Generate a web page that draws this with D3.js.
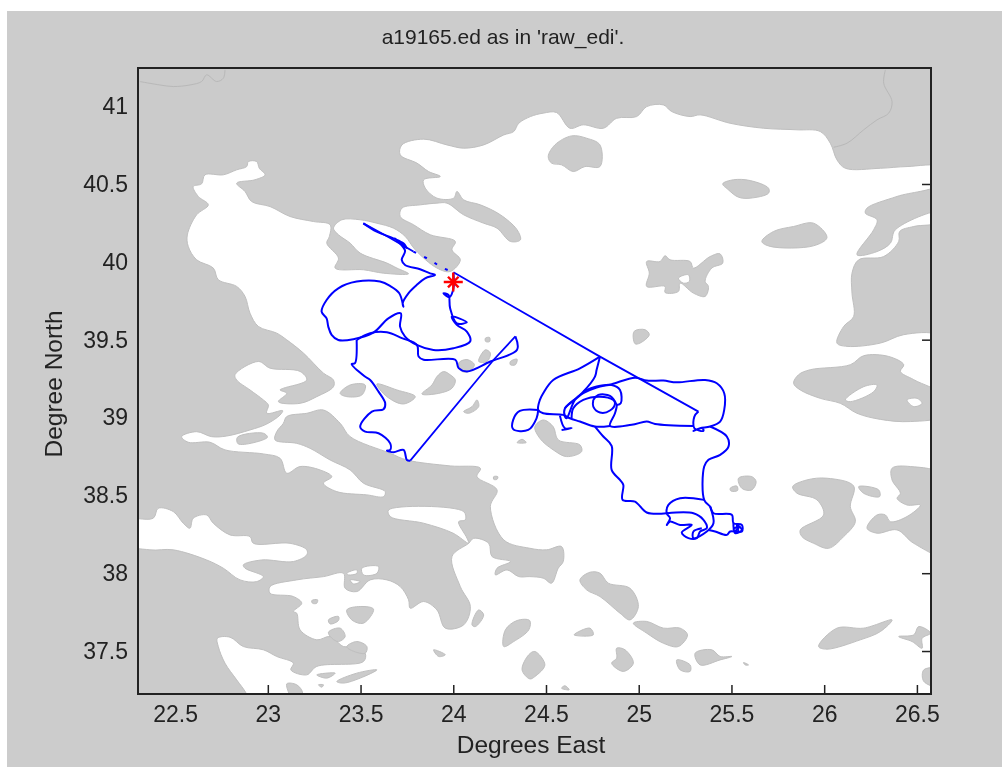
<!DOCTYPE html>
<html>
<head>
<meta charset="utf-8">
<script src="https://d3js.org/d3.v7.min.js"></script>
<style>
body { margin: 0; background: #fff; }
svg { filter: blur(0.4px); }
text { font-family: "Liberation Sans", Arial, sans-serif; fill: #222; }
</style>
</head>
<body>
<script>
var xTicks = [22.5, 23, 23.5, 24, 24.5, 25, 25.5, 26, 26.5];
var yTicks = [37.5, 38, 38.5, 39, 39.5, 40, 40.5, 41];
var xLimits = [22.3, 26.576];
var yLimits = [37.224, 41.245];

// coast of the open sea, lon/lat
var seaMain = [[23.300,39.285],[23.192,39.414],[23.102,39.499],[23.048,39.542],[22.949,39.585],[22.904,39.670],[22.877,39.778],[22.832,39.842],[22.733,39.885],[22.706,39.960],[22.616,40.013],[22.571,40.099],[22.566,40.173],[22.616,40.302],[22.679,40.366],[22.625,40.420],[22.598,40.484],[22.643,40.501],[22.661,40.559],[22.760,40.559],[22.832,40.591],[22.886,40.612],[22.895,40.644],[22.940,40.644],[22.954,40.601],[22.985,40.559],[22.931,40.527],[22.832,40.505],[22.877,40.452],[22.913,40.387],[23.012,40.355],[23.120,40.291],[23.246,40.259],[23.336,40.238],[23.332,40.163],[23.318,40.120],[23.381,40.024],[23.363,39.960],[23.516,39.949],[23.624,39.927],[23.759,39.923],[23.696,39.960],[23.642,39.992],[23.498,40.056],[23.444,40.120],[23.381,40.174],[23.354,40.216],[23.399,40.270],[23.498,40.270],[23.588,40.248],[23.678,40.216],[23.741,40.163],[23.795,40.077],[23.912,39.960],[23.984,39.938],[24.038,40.013],[23.993,40.077],[24.011,40.131],[23.876,40.174],[23.786,40.238],[23.714,40.291],[23.723,40.345],[23.822,40.366],[23.912,40.377],[23.966,40.377],[24.056,40.302],[24.164,40.248],[24.236,40.216],[24.308,40.131],[24.362,40.141],[24.344,40.206],[24.254,40.302],[24.146,40.366],[24.056,40.398],[24.020,40.452],[24.002,40.409],[23.912,40.409],[23.849,40.473],[23.840,40.527],[23.930,40.548],[23.867,40.580],[23.804,40.634],[23.714,40.687],[23.723,40.751],[23.840,40.788],[23.966,40.751],[24.056,40.730],[24.164,40.751],[24.272,40.815],[24.326,40.837],[24.353,40.890],[24.416,40.933],
[24.485,40.955],[24.557,40.959],[24.629,40.858],[24.701,40.880],[24.809,40.858],[24.881,40.922],[24.989,40.933],[25.043,40.997],[25.133,41.008],[25.178,40.965],[25.277,40.933],[25.331,40.944],[25.493,40.890],[25.673,40.858],[25.853,40.848],[25.979,40.837],[26.033,40.762],[26.069,40.655],[26.114,40.601],[26.303,40.601],[26.447,40.612],[26.62,40.608],[26.62,40.50],[26.393,40.420],[26.231,40.345],[26.222,40.313],[26.285,40.270],[26.267,40.206],[26.177,40.045],[26.285,40.066],[26.357,40.120],[26.384,40.206],[26.62,40.32],[26.62,40.255],[26.483,40.227],[26.407,40.195],[26.402,40.131],[26.321,40.034],[26.186,40.013],[26.150,39.927],[26.150,39.799],[26.159,39.649],[26.105,39.585],[26.069,39.478],[26.123,39.457],[26.303,39.478],[26.429,39.532],[26.62,39.532],[26.75,39.4],[26.75,37.05],[22.95,37.05],
[22.886,37.224],[22.832,37.315],[22.769,37.422],[22.733,37.529],[22.728,37.582],[22.796,37.589],[22.868,37.529],[22.976,37.508],[23.048,37.465],[23.138,37.422],[23.124,37.379],[23.210,37.347],[23.264,37.401],[23.516,37.433],[23.525,37.486],[23.462,37.529],[23.408,37.529],[23.336,37.593],[23.264,37.572],[23.174,37.636],[23.156,37.743],[23.138,37.754],[23.183,37.807],[23.138,37.850],[23.012,37.871],[23.012,37.914],[23.156,37.957],[23.300,37.978],[23.408,37.999],[23.417,37.903],[23.480,37.882],[23.552,37.957],[23.642,37.957],[23.714,37.914],[23.759,37.829],[23.768,37.775],[23.840,37.818],[23.912,37.764],[23.957,37.647],[24.056,37.668],[24.092,37.786],[24.038,37.914],[23.993,38.107],[24.083,38.192],[24.110,38.224],[24.191,38.192],[24.209,38.107],[24.308,38.075],[24.236,38.032],[24.227,37.989],[24.290,38.021],[24.353,37.978],[24.413,37.978],[24.485,37.968],[24.530,37.936],[24.566,38.032],[24.593,38.075],[24.584,38.171],[24.503,38.150],[24.413,38.160],[24.272,38.214],[24.200,38.428],[24.236,38.535],[24.128,38.620],[24.146,38.674],[23.984,38.689],[23.750,38.727],[23.660,38.770],[23.444,38.877],[23.390,38.963],[23.300,39.048],[23.210,39.027],[23.102,39.006],[23.084,38.963],[23.048,38.909],[23.039,38.856],[23.156,38.834],[23.228,38.802],[23.336,38.727],[23.444,38.663],[23.516,38.578],[23.633,38.524],[23.624,38.492],[23.534,38.503],[23.372,38.524],[23.300,38.578],[23.345,38.620],[23.282,38.663],[23.174,38.685],[23.102,38.642],[23.066,38.738],[22.976,38.766],[22.769,38.792],[22.688,38.841],[22.571,38.841],[22.535,38.877],[22.616,38.909],[22.697,38.877],[22.778,38.881],[22.904,38.920],[22.994,38.958],[23.066,39.016],[23.080,39.044],[22.994,39.027],[23.003,39.080],[22.976,39.113],[22.904,39.177],[22.832,39.241],[22.823,39.275],[22.949,39.360],[23.012,39.317],[23.174,39.296],[23.210,39.241],[23.084,39.188],[23.066,39.177],[23.102,39.155],[23.057,39.102],[23.174,39.091],[23.264,39.134],[23.354,39.198],[23.354,39.241]];
var seaCorinth = [[22.22,38.342],[22.382,38.353],[22.409,38.417],[22.490,38.396],[22.544,38.321],[22.580,38.289],[22.598,38.353],[22.670,38.374],[22.706,38.321],[22.796,38.246],[22.904,38.235],[22.922,38.192],[23.120,38.192],[23.210,38.150],[23.210,38.118],[23.138,38.075],[22.967,38.085],[22.868,38.053],[22.877,38.032],[22.976,37.978],[22.940,37.946],[22.850,37.957],[22.760,38.032],[22.670,38.085],[22.490,38.150],[22.364,38.150],[22.22,38.192]];
var seaEuboea = [[23.651,38.406],[24.056,38.396],[24.065,38.342],[24.029,38.331],[24.074,38.225],[24.083,38.192],[23.999,38.257],[23.840,38.321],[23.660,38.364]];
var bayA = [[23.507,38.032],[23.597,38.043],[23.588,37.999],[23.516,37.989]];
var bayB = [[23.426,37.999],[23.480,38.021],[23.480,37.999],[23.435,37.989]];
var bayC = [[23.444,37.957],[23.498,37.946],[23.462,37.931]];

var thasos = [[24.512,40.676],[24.548,40.751],[24.638,40.809],[24.719,40.794],[24.791,40.751],[24.791,40.612],[24.710,40.612],[24.647,40.580],[24.584,40.623],[24.530,40.634]];
var samothrace = [[25.453,40.501],[25.511,40.527],[25.601,40.522],[25.700,40.473],[25.700,40.441],[25.601,40.409],[25.538,40.415],[25.484,40.462]];
var imbros = [[25.664,40.131],[25.727,40.195],[25.835,40.227],[25.943,40.248],[26.015,40.156],[25.943,40.103],[25.709,40.099]];
var lemnos = [[25.043,40.002],[25.115,40.002],[25.142,40.039],[25.169,40.013],[25.277,40.002],[25.295,39.960],[25.385,40.034],[25.439,40.051],[25.453,39.992],[25.394,39.960],[25.358,39.874],[25.376,39.842],[25.358,39.778],[25.295,39.799],[25.223,39.863],[25.214,39.810],[25.142,39.803],[25.142,39.842],[25.043,39.842],[25.057,39.927]];
var lemnosBay = [[25.214,39.895],[25.268,39.917],[25.273,39.874],[25.241,39.863]];
var efstratios = [[24.975,39.553],[25.034,39.564],[25.057,39.532],[25.007,39.478],[24.980,39.474]];
var lesvos = [[25.862,39.275],[25.925,39.307],[26.141,39.339],[26.213,39.397],[26.348,39.392],[26.429,39.339],[26.411,39.296],[26.483,39.243],[26.65,39.134],[26.65,39.016],[26.465,38.974],[26.303,38.988],[26.177,39.027],[26.087,39.091],[25.979,39.123],[25.871,39.177],[25.835,39.220]];
var lesvosBayA = [[26.114,39.113],[26.213,39.198],[26.285,39.209],[26.267,39.166],[26.141,39.102]];
var lesvosBayB = [[26.447,39.113],[26.501,39.123],[26.528,39.091],[26.483,39.070]];
var skyros = [[24.440,38.941],[24.485,38.984],[24.539,38.941],[24.566,38.856],[24.683,38.824],[24.692,38.781],[24.611,38.749],[24.539,38.792],[24.467,38.866]];
var psara = [[25.538,38.610],[25.610,38.620],[25.633,38.588],[25.610,38.535],[25.556,38.545]];
var antipsara = [[25.493,38.545],[25.529,38.560],[25.533,38.531],[25.497,38.528]];
var chios = [[25.830,38.556],[25.907,38.599],[26.015,38.610],[26.159,38.560],[26.141,38.428],[26.168,38.331],[26.105,38.235],[26.024,38.160],[25.943,38.192],[25.880,38.235],[25.871,38.278],[25.997,38.374],[25.961,38.471],[25.853,38.514]];
var oinousses = [[26.186,38.556],[26.294,38.535],[26.299,38.492],[26.213,38.513]];
var cesme = [[26.366,38.674],[26.465,38.685],[26.65,38.620],[26.65,38.117],[26.483,38.192],[26.393,38.278],[26.285,38.257],[26.231,38.289],[26.285,38.374],[26.330,38.374],[26.357,38.331],[26.447,38.364],[26.519,38.438],[26.447,38.438],[26.393,38.481],[26.411,38.513],[26.366,38.599]];
var tinos = [[24.683,37.957],[24.737,38.006],[24.791,38.000],[24.836,37.936],[24.953,37.903],[24.998,37.786],[24.953,37.700],[24.899,37.743],[24.791,37.850],[24.719,37.893]];
var mykonos = [[24.971,37.679],[25.043,37.690],[25.133,37.647],[25.223,37.647],[25.263,37.604],[25.214,37.529],[25.133,37.550],[25.043,37.615]];
var syros = [[24.651,37.604],[24.737,37.647],[24.755,37.604]];
var paros = [[24.881,37.518],[24.926,37.508],[24.971,37.422],[24.917,37.369],[24.854,37.422],[24.881,37.454]];
var naxos = [[25.304,37.486],[25.394,37.508],[25.439,37.465],[25.502,37.465],[25.439,37.443],[25.331,37.411]];
var donousa = [[25.205,37.443],[25.277,37.411],[25.277,37.369],[25.223,37.379]];
var islet = [[25.565,37.426],[25.592,37.411],[25.574,37.411]];
var samos = [[25.970,37.529],[26.069,37.647],[26.213,37.647],[26.366,37.700],[26.303,37.625],[26.195,37.572],[26.015,37.512]];
var fournoi = [[26.402,37.593],[26.483,37.604],[26.510,37.657],[26.573,37.615],[26.528,37.582],[26.528,37.518],[26.474,37.561]];
var edgeIsle = [[26.537,37.379],[26.62,37.384],[26.62,37.272],[26.537,37.305]];
var southIsle = [[24.584,37.261],[24.602,37.277],[24.625,37.251]];
var kea = [[24.272,37.529],[24.281,37.636],[24.344,37.696],[24.412,37.696],[24.407,37.636],[24.326,37.561]];
var kythnos = [[24.371,37.379],[24.407,37.476],[24.440,37.497],[24.494,37.411],[24.440,37.336],[24.413,37.321]];
var smallA = [[24.101,37.668],[24.137,37.764],[24.164,37.732],[24.119,37.657]];
var smallB = [[23.894,37.508],[23.957,37.476],[23.921,37.465]];
var smallC = [[24.344,38.839],[24.371,38.860],[24.393,38.839]];
var smallD = [[24.218,38.620],[24.240,38.620],[24.236,38.603],[24.218,38.603]];
var smallE = [[24.056,39.038],[24.101,39.070],[24.128,39.113],[24.137,39.070],[24.083,39.027]];
var sporadesA = [[23.390,39.155],[23.444,39.209],[23.525,39.209],[23.507,39.145],[23.426,39.134]];
var sporadesB = [[23.588,39.215],[23.696,39.177],[23.795,39.134],[23.732,39.087],[23.642,39.134]];
var sporadesC = [[23.831,39.151],[23.885,39.209],[23.912,39.263],[23.948,39.295],[23.984,39.274],[24.011,39.241],[23.993,39.188],[23.921,39.155]];
var sporadesD = [[24.029,39.350],[24.074,39.372],[24.114,39.339],[24.083,39.296],[24.047,39.296]];
var sporadesE = [[24.137,39.360],[24.173,39.435],[24.200,39.414],[24.182,39.360]];
var sporadesF = [[24.308,39.360],[24.344,39.375],[24.335,39.339],[24.308,39.339]];
var sporadesG = [[24.173,39.509],[24.196,39.514],[24.196,39.488],[24.175,39.488]];
var sliver = [[22.836,38.873],[22.976,38.899],[22.998,38.873],[22.841,38.830]];
var aegina = [[23.426,37.764],[23.498,37.786],[23.570,37.769],[23.516,37.679],[23.453,37.700]];
var poros = [[23.327,37.621],[23.390,37.647],[23.417,37.593],[23.381,37.561],[23.345,37.583]];
var salamis = [[23.327,37.700],[23.381,37.722],[23.381,37.696],[23.336,37.674]];
var dot = [[23.237,37.824],[23.268,37.829],[23.264,37.807],[23.241,37.807]];
var hydraA = [[23.426,37.529],[23.480,37.561],[23.534,37.529],[23.525,37.486],[23.444,37.508]];
var hydraB = [[23.264,37.347],[23.363,37.358],[23.318,37.326]];
var hydraC = [[23.372,37.304],[23.480,37.358],[23.588,37.379],[23.498,37.326],[23.408,37.294]];
var spetses = [[23.102,37.289],[23.156,37.283],[23.188,37.229],[23.156,37.15]];
var tiny = [[23.273,37.283],[23.300,37.283],[23.291,37.268]];

var borderWest = [[22.310,41.158],[22.418,41.136],[22.490,41.126],[22.580,41.136],[22.643,41.158],[22.670,41.201],[22.724,41.158],[22.760,41.179],[22.769,41.233]];
var borderEast = [[26.330,41.233],[26.321,41.147],[26.366,41.029],[26.348,40.955],[26.285,40.912],[26.213,40.848],[26.123,40.762],[26.051,40.736]];

// float track, several pieces
var trackDotted = [[23.785,40.066],[23.857,40.023],[23.947,39.958],[24.001,39.933]];
var trackStart = [[23.515,40.247],[23.650,40.160],[23.785,40.066]];
var trackLong = [[24.001,39.933],[24.791,39.391],[25.322,39.038]];
var trackNorth = [[25.322,39.038],[25.300,39.006],[25.300,38.931],[25.349,38.914],[25.344,38.931],[25.295,38.914],[25.331,38.931],[25.385,38.942],[25.439,38.974],[25.461,39.049],[25.461,39.156],[25.421,39.220],[25.358,39.241],[25.205,39.226],[25.133,39.237],[25.043,39.237],[24.980,39.256],[24.854,39.214],[24.773,39.192],[24.701,39.156],[24.665,39.124],[24.602,39.059],[24.602,39.006],[24.611,38.995],[24.656,39.113],[24.701,39.156]];
var trackWest = [[23.515,40.247],[23.587,40.194],[23.677,40.151],[23.731,40.119],[23.749,40.087],[23.686,40.151],[23.740,40.072],[23.722,40.012],[23.740,39.980],[23.821,39.952],[23.875,39.926],[23.902,39.916],[23.848,39.894],[23.803,39.852],[23.758,39.798],[23.727,39.734],[23.731,39.712],[23.709,39.798],[23.659,39.845],[23.605,39.873],[23.479,39.873],[23.380,39.830],[23.317,39.755],[23.290,39.680],[23.317,39.637],[23.326,39.584],[23.344,39.531],[23.380,39.498],[23.461,39.503],[23.569,39.545],[23.650,39.637],[23.717,39.669],[23.713,39.584],[23.740,39.520],[23.803,39.466],[23.893,39.434],[24.001,39.445],[24.091,39.488],[24.073,39.552],[24.019,39.595],[23.992,39.648],[24.073,39.612],[24.019,39.605],[23.983,39.702],[23.974,39.787],[23.947,39.798],[23.979,39.772],[24.001,39.830],[24.001,39.926]];
var trackSouthWest = [[23.479,39.498],[23.470,39.349],[23.452,39.344],[23.524,39.263],[23.552,39.241],[23.597,39.166],[23.633,39.091],[23.624,39.053],[23.561,39.038],[23.498,38.941],[23.525,38.909],[23.597,38.899],[23.660,38.834],[23.660,38.792],[23.642,38.787],[23.678,38.777],[23.732,38.792],[23.750,38.727],[23.768,38.723]];
var trackDiagonal = [[23.768,38.723],[24.128,39.241],[24.218,39.371],[24.335,39.521]];
var trackBack = [[24.335,39.521],[24.344,39.435],[24.200,39.360],[24.074,39.296],[24.029,39.317],[24.011,39.371],[23.840,39.371],[23.813,39.392],[23.804,39.467],[23.723,39.510],[23.642,39.548],[23.552,39.542],[23.480,39.499]];
var trackSpiral = [[24.638,38.995],[24.647,39.059],[24.701,39.113],[24.791,39.134],[24.863,39.113],[24.881,39.081],[24.872,39.027],[24.845,38.946],[24.962,38.953],[25.043,38.974],[25.088,38.959],[25.295,38.946]];
var trackOuter = [[24.701,39.166],[24.773,39.199],[24.854,39.209],[24.899,39.177],[24.903,39.092],[24.881,39.081]];
var trackCircle = [[24.755,39.113],[24.782,39.145],[24.845,39.139],[24.872,39.092],[24.845,39.045],[24.791,39.032],[24.755,39.070],[24.755,39.113]];
var trackCross = [[24.791,39.391],[24.773,39.306],[24.764,39.263],[24.701,39.166],[24.620,39.081],[24.602,39.059]];
var trackArc = [[24.791,39.391],[24.683,39.316],[24.539,39.241],[24.485,39.156],[24.467,39.113],[24.458,39.049],[24.485,39.027],[24.593,39.017],[24.629,38.995],[24.683,38.974],[24.764,38.942],[24.845,38.946]];
var trackLoop = [[24.458,39.049],[24.359,39.042],[24.323,38.985],[24.323,38.925],[24.404,38.920],[24.449,38.995],[24.458,39.049]];
var trackSpur = [[24.575,39.012],[24.602,38.931],[24.638,38.931],[24.584,38.920]];
var trackSouth = [[24.764,38.942],[24.809,38.878],[24.854,38.818],[24.854,38.664],[24.899,38.599],[24.917,38.567],[24.913,38.471],[24.980,38.460],[25.043,38.390],[25.151,38.385]];
var trackEast = [[25.385,38.942],[25.475,38.878],[25.484,38.813],[25.439,38.760],[25.376,38.728],[25.353,38.685],[25.353,38.471],[25.385,38.428],[25.403,38.385],[25.502,38.375],[25.511,38.321],[25.556,38.310],[25.556,38.268],[25.493,38.268],[25.475,38.246],[25.412,38.268],[25.376,38.278]];
var trackCluster = [[25.353,38.471],[25.223,38.482],[25.160,38.439],[25.151,38.385],[25.169,38.353],[25.151,38.310],[25.169,38.332],[25.223,38.310],[25.286,38.310],[25.232,38.261],[25.268,38.225],[25.313,38.225],[25.331,38.268],[25.367,38.289],[25.349,38.343],[25.295,38.385],[25.151,38.385]];
var trackInner = [[25.385,38.428],[25.403,38.321],[25.367,38.268],[25.295,38.225],[25.295,38.268],[25.340,38.289]];
var trackTip = [[25.511,38.321],[25.511,38.300],[25.520,38.257],[25.556,38.278],[25.529,38.310],[25.538,38.261],[25.511,38.283],[25.545,38.300],[25.520,38.270]];

var startPoint = [24.0, 39.87];

var seas = [seaMain, seaCorinth, seaEuboea, bayA, bayB, bayC];
var islands = [thasos, samothrace, imbros, lemnos, lemnosBay, efstratios, lesvos, lesvosBayA, lesvosBayB, skyros, psara, antipsara, chios, oinousses, cesme, tinos, mykonos, syros, paros, naxos, donousa, islet, samos, fournoi, edgeIsle, southIsle, kea, kythnos, smallA, smallB, smallC, smallD, smallE, sporadesA, sporadesB, sporadesC, sporadesD, sporadesE, sporadesF, sporadesG, sliver, aegina, poros, salamis, dot, hydraA, hydraB, hydraC, spetses, tiny];
var tracks = [trackNorth, trackWest, trackSouthWest, trackBack, trackSpiral, trackOuter, trackCircle, trackCross, trackArc, trackLoop, trackSpur, trackSouth, trackEast, trackCluster, trackInner, trackTip];
var straightTracks = [trackStart, trackLong, trackDiagonal];

var width = 1002, height = 767;
var left = 138, right = 931, axTop = 68, bottom = 694;

var svg = d3.select("body").append("svg")
	.attr("width", width)
	.attr("height", height)
	.style("display", "block");

svg.append("clipPath").attr("id", "box").append("rect")
	.attr("x", left).attr("y", axTop).attr("width", right - left).attr("height", bottom - axTop);

svg.append("rect").attr("x", 7).attr("y", 11).attr("width", width - 7).attr("height", height - 11).attr("fill", "#cccccc");
svg.append("rect").attr("x", left).attr("y", axTop).attr("width", right - left).attr("height", bottom - axTop).attr("fill", "#fff");

var x = d3.scaleLinear().domain(xLimits).range([left, right]);
var y = d3.scaleLinear().domain(yLimits).range([bottom, axTop]);

var line = d3.line().x(function(d) { return x(d[0]); }).y(function(d) { return y(d[1]); });
var smooth = d3.line().x(function(d) { return x(d[0]); }).y(function(d) { return y(d[1]); })
	.curve(d3.curveCatmullRom.alpha(0.5));
var ring = d3.line().x(function(d) { return x(d[0]); }).y(function(d) { return y(d[1]); })
	.curve(d3.curveCatmullRomClosed.alpha(0.5));

// ticks go under the land, like in the original
function addAxis(axis, tx, ty, labels) {
	var g = svg.append("g").attr("transform", "translate(" + tx + "," + ty + ")").call(axis);
	g.select(".domain").remove();
	g.selectAll("line").attr("stroke", "#222").attr("stroke-width", 1.5);
	if (labels) {
		g.selectAll("text").style("font-family", '"Liberation Sans", Arial, sans-serif').style("font-size", "23px").attr("fill", "#222");
	} else {
		g.selectAll("text").remove();
	}
	return g;
}
var fmt = function(d) { return d; };
addAxis(d3.axisBottom(x).tickValues(xTicks).tickFormat(fmt).tickSize(-9).tickPadding(12).tickSizeOuter(0), 0, bottom, true);
addAxis(d3.axisLeft(y).tickValues(yTicks).tickFormat(fmt).tickSize(-9).tickPadding(10).tickSizeOuter(0), left, 0, true);
addAxis(d3.axisTop(x).tickValues(xTicks).tickSize(-9).tickSizeOuter(0), 0, axTop, false);
addAxis(d3.axisRight(y).tickValues(yTicks).tickSize(-9).tickSizeOuter(0), right, 0, false);

var land = svg.append("g").attr("clip-path", "url(#box)");
var rectRing = "M" + (left - 80) + "," + (axTop - 80) + "H" + (right + 80) + "V" + (bottom + 80) + "H" + (left - 80) + "Z";
land.append("path")
	.attr("d", rectRing + seas.map(function(d) { return ring(d); }).join(""))
	.attr("fill", "#cbcbcb")
	.attr("fill-rule", "evenodd")
	.attr("stroke", "#bfbfbf");
land.append("path")
	.attr("d", islands.map(function(d) { return ring(d); }).join(""))
	.attr("fill", "#cbcbcb")
	.attr("fill-rule", "evenodd")
	.attr("stroke", "#bfbfbf");

land.selectAll(".border").data([borderWest, borderEast]).enter().append("path")
	.attr("class", "border")
	.attr("d", function(d) { return smooth(d); })
	.attr("fill", "none")
	.attr("stroke", "#b8b8b8")
	.attr("stroke-width", 1);

svg.selectAll(".track").data(tracks).enter().append("path")
	.attr("class", "track")
	.attr("d", function(d) { return smooth(d); })
	.attr("fill", "none")
	.attr("stroke", "#0000ff")
	.attr("stroke-width", 2);
svg.selectAll(".straight").data(straightTracks).enter().append("path")
	.attr("class", "straight")
	.attr("d", function(d) { return line(d); })
	.attr("fill", "none")
	.attr("stroke", "#0000ff")
	.attr("stroke-width", 1.8);
svg.append("path")
	.attr("d", line(trackDotted))
	.attr("fill", "none")
	.attr("stroke", "#0000ff")
	.attr("stroke-width", 2)
	.attr("stroke-dasharray", "3 9");

var star = svg.append("g")
	.attr("transform", "translate(" + x(startPoint[0]) + "," + y(startPoint[1]) + ")")
	.attr("stroke", "#ff0000")
	.attr("fill", "none")
	.attr("stroke-width", 2.4);
star.append("path").attr("d", d3.symbol().type(d3.symbolPlus).size(120)());
star.append("path").attr("d", d3.symbol().type(d3.symbolTimes).size(75)());

svg.append("rect").attr("x", left).attr("y", axTop).attr("width", right - left).attr("height", bottom - axTop)
	.attr("fill", "none").attr("stroke", "#222").attr("stroke-width", 2);

svg.append("text").attr("x", 503).attr("y", 44).attr("text-anchor", "middle").style("font-size", "21px").text("a19165.ed as in 'raw_edi'.");
svg.append("text").attr("x", 531).attr("y", 753).attr("text-anchor", "middle").style("font-size", "24.5px").text("Degrees East");
svg.append("text").attr("transform", "translate(62,384) rotate(-90)").attr("text-anchor", "middle").style("font-size", "24.5px").text("Degree North");
</script>
</body>
</html>
